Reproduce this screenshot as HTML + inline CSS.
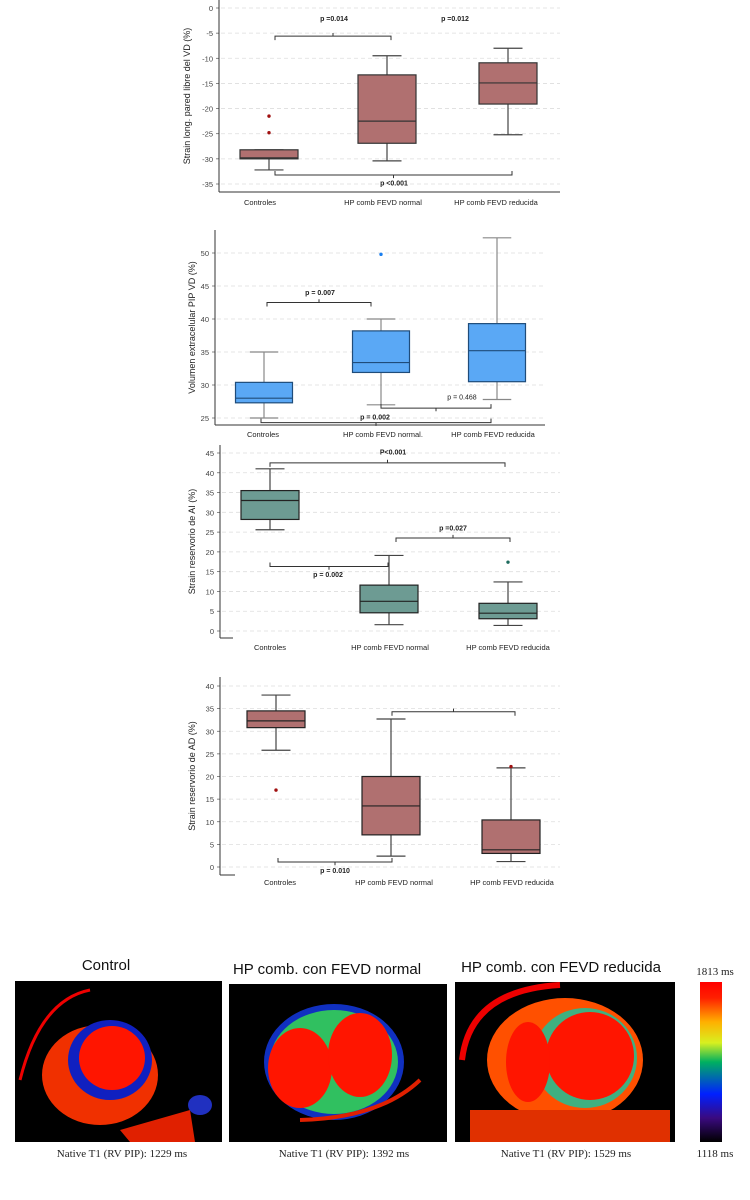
<!DOCTYPE html>
<html><head><meta charset="utf-8"><style>
body{margin:0;background:#fff;width:750px;height:1200px;overflow:hidden;font-family:"Liberation Sans",sans-serif}
svg{position:absolute;left:0;top:0}
</style></head><body>
<svg id="s" width="750" height="1200"></svg>
<script>
const cats=["Controles","HP comb FEVD normal","HP comb FEVD reducida"];
const cats2=["Controles","HP comb FEVD normal.","HP comb FEVD reducida"];
// chart1 strain VD: [lowWhisker,q1,median,q3,highWhisker]
const c1Boxes=[[-32.2,-30,-29.8,-28.2,-28.2],[-30.4,-26.9,-22.5,-13.3,-9.5],[-25.2,-19.1,-14.9,-10.9,-8]];
const c1Out=[[0,-21.5],[0,-24.8]];
const c1Ticks=[0,-5,-10,-15,-20,-25,-30,-35];
const c2Boxes=[[25,27.3,28,30.4,35],[27,31.9,33.4,38.2,40],[27.8,30.5,35.2,39.3,52.3]];
const c2Out=[[1,49.8]];
const c2Ticks=[25,30,35,40,45,50];
const c3Boxes=[[25.6,28.2,33,35.5,41],[1.6,4.6,7.5,11.6,19.1],[1.4,3.1,4.5,7,12.4]];
const c3Out=[[2,17.4]];
const c3Ticks=[0,5,10,15,20,25,30,35,40,45];
const c4Boxes=[[25.8,30.8,32.3,34.5,38],[2.4,7.1,13.5,20,32.7],[1.2,3,3.8,10.4,21.9]];
const c4Out=[[0,17],[2,22.2]];
const c4Ticks=[0,5,10,15,20,25,30,35,40];
const NS="http://www.w3.org/2000/svg";
const S=document.getElementById('s');
function el(t,a,p){const e=document.createElementNS(NS,t);for(const k in a)e.setAttribute(k,a[k]);(p||S).appendChild(e);return e;}
function txt(x,y,s,a,p){const e=el('text',Object.assign({x:x,y:y,'font-size':8,fill:'#222','text-anchor':'middle'},a||{}),p);e.textContent=s;return e;}
function chart(cfg){
 const g=el('g',{});
 
 
 const Y=v=>cfg.y0+(v-cfg.v0)*(cfg.y1-cfg.y0)/(cfg.v1-cfg.v0);
 cfg.ticks.forEach(t=>{
  const gl=el('line',{x1:cfg.ax+2,x2:cfg.right,y1:Y(t),y2:Y(t),stroke:'#ddd','stroke-dasharray':'4,3','stroke-width':0.8},g);
  
  
  const tl=txt(cfg.ax-6,Y(t)+3,String(t),{'text-anchor':'end','font-size':7.5,fill:'#444'},g);
  
  
  el('line',{x1:cfg.ax-3,x2:cfg.ax,y1:Y(t),y2:Y(t),stroke:'#555','stroke-width':0.7},g);
 });
 const ya=el('line',{x1:cfg.ax,x2:cfg.ax,y1:cfg.top,y2:cfg.bottom,stroke:'#333','stroke-width':1},g);
 
 
 const xa=el('line',{x1:cfg.ax,x2:cfg.xaEnd,y1:cfg.bottom,y2:cfg.bottom,stroke:'#333','stroke-width':1},g);
 
 
 const yt=txt(0,0,cfg.title,{'font-size':9,transform:`translate(${cfg.tx},${(cfg.top+cfg.bottom)/2}) rotate(-90)`},g);
 
 
 cfg.boxes.forEach((b,i)=>{
  const cx=cfg.cx[i],w=cfg.bw;
  el('line',{x1:cx,x2:cx,y1:Y(b[0]),y2:Y(b[4]),stroke:cfg.wc,'stroke-width':1.2},g);
  el('line',{x1:cx-w/4,x2:cx+w/4,y1:Y(b[0]),y2:Y(b[0]),stroke:cfg.wc,'stroke-width':1.2},g);
  el('line',{x1:cx-w/4,x2:cx+w/4,y1:Y(b[4]),y2:Y(b[4]),stroke:cfg.wc,'stroke-width':1.2},g);
  const r=el('rect',{x:cx-w/2,y:Y(b[3]),width:w,height:Y(b[1])-Y(b[3]),fill:cfg.fill,stroke:cfg.stroke,'stroke-width':1.2},g);
  
  
  el('line',{x1:cx-w/2,x2:cx+w/2,y1:Y(b[2]),y2:Y(b[2]),stroke:cfg.stroke,'stroke-width':1.2},g);
  const cl=txt(cfg.lx[i],cfg.ly,cfg.cats[i],{'font-size':7.5},g);
  
  
 });
 cfg.out.forEach(o=>{
  const c=el('circle',{cx:cfg.cx[o[0]],cy:Y(o[1]),r:1.7,fill:cfg.oc},g);
  
  
 });
 (cfg.br||[]).forEach(b=>{
  const y=Y(b.v),d=b.up?-4:4;
  const p=el('path',{d:`M${b.x1},${y+d}V${y}H${b.x2}V${y+d}M${(b.x1+b.x2)/2},${y}v${-d*0.8}`,fill:'none',stroke:'#333','stroke-width':1},g);
  
  
 });
 (cfg.pl||[]).forEach(l=>{
  const t=txt(l.x,Y(l.v),l.t,{'font-weight':l.n?'normal':'bold','font-size':7},g);
  
  
 });
}
chart({name:'chart-strain-vd',v0:0,v1:-35,y0:8,y1:184,top:0,bottom:192,ax:219,right:560,xaEnd:560,ticks:c1Ticks,boxes:c1Boxes,out:c1Out,cx:[269,387,508],bw:58,lx:[260,383,496],ly:205,cats:cats,title:'Strain long.  pared libre del VD (%)',tx:190,fill:'#b07070',stroke:'#333',wc:'#444',oc:'#a01010',
 br:[{x1:275,x2:391,v:-5.6},{x1:275,x2:512,v:-33.2,up:true}],
 pl:[{x:334,v:-2.6,t:'p =0.014'},{x:455,v:-2.6,t:'p =0.012'},{x:394,v:-35.3,t:'p <0.001'}]});
chart({name:'chart-volumen-extracelular',v0:50,v1:25,y0:253,y1:418,top:230,bottom:425,ax:215,right:545,xaEnd:545,ticks:c2Ticks,boxes:c2Boxes,out:c2Out,cx:[264,381,497],bw:57,lx:[263,383,493],ly:437,cats:cats2,title:'Volumen extracelular PIP VD (%)',tx:195,fill:'#5aa8f5',stroke:'#1f4c7a',wc:'#888',oc:'#1a7ff0',
 br:[{x1:267,x2:371,v:42.5},{x1:381,x2:491,v:26.5,up:true},{x1:261,x2:491,v:24.3,up:true}],
 pl:[{x:320,v:43.6,t:'p = 0.007'},{x:462,v:27.8,t:'p = 0.468',n:1},{x:375,v:24.8,t:'p = 0.002'}]});
chart({name:'chart-strain-ai',v0:45,v1:0,y0:453,y1:631,top:445,bottom:638,ax:220,right:560,xaEnd:233,ticks:c3Ticks,boxes:c3Boxes,out:c3Out,cx:[270,389,508],bw:58,lx:[270,390,508],ly:650,cats:cats,title:'Strain reservorio de AI (%)',tx:195,fill:'#6d9b93',stroke:'#222',wc:'#444',oc:'#1e6b5e',
 br:[{x1:270,x2:505,v:42.5},{x1:396,x2:510,v:23.5},{x1:270,x2:388,v:16.3,up:true}],
 pl:[{x:393,v:44.6,t:'P<0.001'},{x:453,v:25.4,t:'p =0.027'},{x:328,v:13.7,t:'p = 0.002'}]});
chart({name:'chart-strain-ad',v0:40,v1:0,y0:686,y1:867,top:677,bottom:875,ax:220,right:560,xaEnd:235,ticks:c4Ticks,boxes:c4Boxes,out:c4Out,cx:[276,391,511],bw:58,lx:[280,394,512],ly:885,cats:cats,title:'Strain reservorio de AD (%)',tx:195,fill:'#b07070',stroke:'#222',wc:'#444',oc:'#a01010',
 br:[{x1:392,x2:515,v:34.3},{x1:278,x2:392,v:1.1,up:true}],
 pl:[{x:335,v:-1.3,t:'p = 0.010'}]});
</script>
<svg width="750" height="1200" style="position:absolute;left:0;top:0">
<defs>
<linearGradient id="cb" x1="0" y1="1" x2="0" y2="0">
<stop offset="0" stop-color="#000"/><stop offset="0.15" stop-color="#3a0a80"/><stop offset="0.3" stop-color="#0020ff"/><stop offset="0.5" stop-color="#00b060"/><stop offset="0.62" stop-color="#d8f020"/><stop offset="0.75" stop-color="#ffb000"/><stop offset="0.9" stop-color="#ff2000"/><stop offset="1" stop-color="#f00"/></linearGradient>
<clipPath id="c1"><rect x="15" y="981" width="207" height="161"/></clipPath>
<clipPath id="c2"><rect x="229" y="984" width="218" height="158"/></clipPath>
<clipPath id="c3"><rect x="455" y="982" width="220" height="160"/></clipPath>
</defs>
<g font-family="Liberation Sans, sans-serif" font-size="15" fill="#111">
<text x="106" y="970" text-anchor="middle">Control</text>
<text x="327" y="974" text-anchor="middle">HP comb. con FEVD normal</text>
<text x="561" y="972" text-anchor="middle">HP comb. con FEVD reducida</text>
</g>
<g clip-path="url(#c1)">
<rect x="15" y="981" width="207" height="161" fill="#000"/>
<path d="M20,1080 Q40,1000 90,990" stroke="#e00" stroke-width="3" fill="none"/>
<ellipse cx="100" cy="1075" rx="58" ry="50" fill="#f03000"/>
<ellipse cx="110" cy="1060" rx="42" ry="40" fill="#1020c0"/>
<ellipse cx="112" cy="1058" rx="33" ry="32" fill="#ff1500"/>
<path d="M120,1130 L190,1110 L195,1142 L130,1142Z" fill="#e02000"/>
<ellipse cx="200" cy="1105" rx="12" ry="10" fill="#2030c0"/>
</g>
<g clip-path="url(#c2)">
<rect x="229" y="984" width="218" height="158" fill="#000"/>
<ellipse cx="334" cy="1062" rx="70" ry="58" fill="#1030c0"/>
<ellipse cx="334" cy="1062" rx="64" ry="52" fill="#30c060"/>
<ellipse cx="300" cy="1068" rx="32" ry="40" fill="#ff1500"/>
<ellipse cx="360" cy="1055" rx="32" ry="42" fill="#ff1500"/>
<path d="M300,1120 Q380,1118 420,1080" stroke="#e02000" stroke-width="4" fill="none"/>
</g>
<g clip-path="url(#c3)">
<rect x="455" y="982" width="220" height="160" fill="#000"/>
<path d="M462,1060 Q470,990 560,985" stroke="#e00" stroke-width="6" fill="none"/>
<ellipse cx="565" cy="1060" rx="78" ry="62" fill="#ff5000"/>
<ellipse cx="585" cy="1058" rx="52" ry="50" fill="#40b080"/>
<ellipse cx="590" cy="1056" rx="44" ry="44" fill="#ff1500"/>
<ellipse cx="528" cy="1062" rx="22" ry="40" fill="#ff1500"/>
<rect x="470" y="1110" width="200" height="32" fill="#e03000"/>
</g>
<rect x="700" y="982" width="22" height="160" fill="url(#cb)"/>
<g font-family="Liberation Serif, serif" font-size="11" fill="#222" text-anchor="middle">
<text x="715" y="975">1813 ms</text>
<text x="715" y="1157">1118 ms</text>
<text x="122" y="1157">Native T1 (RV PIP): 1229 ms</text>
<text x="344" y="1157">Native T1 (RV PIP): 1392 ms</text>
<text x="566" y="1157">Native T1 (RV PIP): 1529 ms</text>
</g>
</svg>
</body></html>
